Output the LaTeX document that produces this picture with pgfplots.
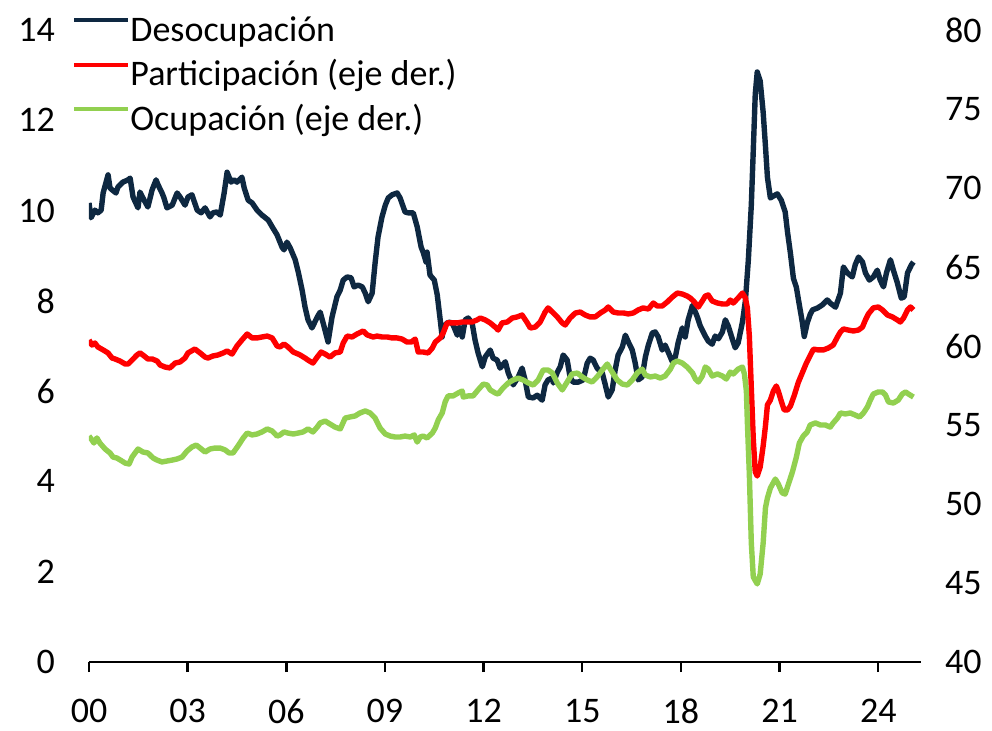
\documentclass[border=0pt]{standalone}
\usepackage{fontspec}
\setmainfont{Carlito}
\usepackage{pgfplots}
\pgfplotsset{compat=1.18}
\definecolor{navy}{HTML}{0E2841}
\definecolor{partred}{HTML}{FF0000}
\definecolor{ocugreen}{HTML}{92D050}
\begin{document}
\begin{tikzpicture}
\pgfplotsset{
  every axis/.append style={
    width=416pt, height=316pt, scale only axis,
    xmin=0, xmax=25.3,
    /pgf/number format/assume math mode=true,
    tick label style={font=\fontsize{18}{21.6}\selectfont},
  }
}
\begin{axis}[name=main,
  ymin=0, ymax=14, ytick={0,2,...,14},
  axis x line*=bottom, axis y line*=left,
  y axis line style={draw=none},
  x axis line style={draw=black, line width=1pt, -},
  ytick style={draw=none},
  xtick={0,3,...,24},
  xticklabels={00,03,06,09,12,15,18,21,24},
  tick align=outside,
  xtick style={black, line width=1.2pt},
  major tick length=5pt,
  yticklabel style={xshift=-8.5pt},
  xticklabel style={yshift=-10pt},
  legend style={at={(rel axis cs:0,1)}, anchor=north west, xshift=-8.5pt, yshift=8pt,
    draw=none, fill=none, inner sep=0pt, column sep=0pt, row sep=4.25pt,
    font=\fontsize{18}{21.6}\selectfont,
    nodes={inner sep=0pt, text height=13.5pt, text depth=4.5pt}},
  legend cell align=left,
  legend image code/.code={\draw[#1, line width=2pt] (0pt,6pt) -- (27pt,6pt);},
]
\addplot[navy, line width=2.7pt, line join=round] table {
0.00 10.17
0.06 9.84
0.18 10.01
0.27 9.95
0.37 10.01
0.43 10.39
0.58 10.79
0.64 10.50
0.70 10.46
0.82 10.39
0.88 10.52
1.03 10.63
1.19 10.68
1.25 10.72
1.34 10.30
1.49 10.06
1.55 10.41
1.64 10.28
1.79 10.08
1.92 10.46
2.04 10.68
2.10 10.57
2.22 10.39
2.28 10.28
2.37 10.06
2.53 10.12
2.68 10.39
2.77 10.30
2.92 10.12
3.01 10.30
3.13 10.35
3.29 10.01
3.41 9.95
3.53 10.06
3.68 9.86
3.77 9.95
3.89 9.97
3.99 9.90
4.11 10.39
4.20 10.85
4.32 10.63
4.41 10.68
4.50 10.63
4.65 10.74
4.72 10.50
4.84 10.23
4.96 10.17
5.11 10.01
5.26 9.90
5.45 9.79
5.57 9.64
5.72 9.46
5.87 9.19
5.93 9.13
6.02 9.30
6.12 9.17
6.27 8.91
6.36 8.65
6.48 8.24
6.57 7.86
6.66 7.58
6.78 7.40
6.94 7.64
7.03 7.75
7.12 7.51
7.27 7.09
7.39 7.64
7.54 8.09
7.64 8.24
7.73 8.46
7.85 8.53
7.97 8.51
8.06 8.31
8.18 8.35
8.31 8.31
8.40 8.17
8.49 7.98
8.61 8.17
8.70 8.84
8.79 9.42
8.91 9.86
9.01 10.12
9.10 10.28
9.22 10.35
9.37 10.39
9.46 10.28
9.61 9.97
9.70 9.95
9.86 9.95
9.98 9.64
10.10 9.19
10.16 9.08
10.25 8.86
10.28 9.08
10.37 8.57
10.50 8.46
10.59 8.13
10.68 7.58
10.74 7.20
10.77 7.42
10.89 7.51
10.98 7.53
11.07 7.47
11.20 7.24
11.26 7.42
11.35 7.20
11.44 7.58
11.53 7.62
11.65 7.51
11.74 7.13
11.83 6.85
11.96 6.54
12.05 6.76
12.20 6.91
12.29 6.73
12.41 6.69
12.50 6.51
12.66 6.65
12.75 6.40
12.90 6.14
13.05 6.31
13.17 6.51
13.26 6.25
13.36 5.87
13.51 5.85
13.63 5.91
13.78 5.80
13.87 6.14
13.96 6.25
14.09 6.29
14.12 6.18
14.24 6.42
14.33 6.54
14.42 6.80
14.54 6.69
14.63 6.31
14.72 6.20
14.88 6.20
15.03 6.25
15.15 6.62
15.24 6.73
15.33 6.69
15.45 6.51
15.61 6.40
15.70 6.14
15.79 5.87
15.91 6.03
16.00 6.47
16.09 6.80
16.22 6.98
16.31 7.24
16.40 7.09
16.52 6.91
16.61 6.62
16.70 6.25
16.82 6.31
16.92 6.76
17.01 7.02
17.13 7.29
17.22 7.31
17.31 7.20
17.43 6.91
17.52 7.02
17.61 6.87
17.74 6.65
17.83 6.76
17.92 7.09
18.04 7.40
18.13 7.20
18.22 7.58
18.35 7.90
18.44 7.75
18.50 7.64
18.59 7.44
18.74 7.22
18.83 7.11
18.95 7.04
19.04 7.22
19.14 7.16
19.26 7.31
19.35 7.58
19.44 7.44
19.56 7.16
19.65 6.96
19.74 7.07
19.87 7.53
19.96 8.00
20.05 8.91
20.14 10.12
20.20 11.34
20.26 12.58
20.32 13.07
20.41 12.87
20.50 12.18
20.57 11.43
20.63 10.74
20.72 10.28
20.81 10.32
20.93 10.37
21.05 10.23
21.17 9.97
21.24 9.53
21.33 9.05
21.42 8.50
21.51 8.30
21.57 8.04
21.69 7.53
21.75 7.21
21.84 7.51
21.93 7.70
22.00 7.80
22.15 7.84
22.30 7.91
22.45 8.02
22.54 7.95
22.70 7.86
22.85 8.17
22.94 8.75
23.06 8.62
23.21 8.53
23.30 8.80
23.40 8.97
23.52 8.86
23.61 8.62
23.73 8.46
23.85 8.53
23.97 8.68
24.06 8.46
24.16 8.31
24.25 8.62
24.37 8.91
24.46 8.68
24.58 8.40
24.70 8.06
24.79 8.09
24.89 8.62
25.01 8.80
25.07 8.86
};
\addlegendentry{Desocupación}
\addlegendimage{partred}
\addlegendentry{Participación (eje der.)}
\addlegendimage{ocugreen}
\addlegendentry{Ocupación (eje der.)}
\end{axis}
\begin{axis}[
  ymin=40, ymax=80, ytick={40,45,...,80},
  axis x line=none, axis y line*=right,
  y axis line style={draw=none},
  ytick style={draw=none},
  yticklabel style={xshift=8.5pt},
]
\addplot[partred, line width=2.7pt, line join=round] table {
0.00 60.38
0.09 60.06
0.18 60.19
0.27 59.94
0.43 59.75
0.58 59.56
0.70 59.24
0.79 59.18
0.94 59.05
1.10 58.86
1.19 58.86
1.31 59.11
1.46 59.43
1.55 59.56
1.64 59.43
1.79 59.18
1.92 59.18
2.07 59.05
2.16 58.80
2.31 58.67
2.46 58.61
2.62 58.92
2.77 58.99
2.92 59.24
3.01 59.56
3.22 59.81
3.38 59.56
3.53 59.30
3.62 59.24
3.77 59.37
3.92 59.43
4.08 59.56
4.20 59.68
4.35 59.49
4.50 60.00
4.65 60.38
4.81 60.76
4.96 60.51
5.11 60.51
5.26 60.57
5.42 60.63
5.57 60.51
5.72 60.00
5.81 59.94
5.93 60.13
6.05 59.94
6.21 59.62
6.36 59.49
6.42 59.43
6.57 59.24
6.66 59.11
6.81 58.92
6.94 59.30
7.06 59.62
7.18 59.49
7.33 59.30
7.48 59.56
7.64 59.62
7.73 60.19
7.85 60.63
8.00 60.57
8.15 60.76
8.34 60.95
8.46 60.70
8.64 60.57
8.76 60.63
8.91 60.57
9.07 60.57
9.22 60.51
9.37 60.51
9.52 60.44
9.67 60.25
9.80 60.25
9.92 60.44
10.01 59.62
10.16 59.62
10.31 59.56
10.44 59.87
10.53 60.25
10.68 60.51
10.77 60.82
10.89 61.46
11.04 61.46
11.20 61.46
11.35 61.52
11.50 61.52
11.65 61.52
11.80 61.65
11.90 61.77
12.05 61.65
12.20 61.46
12.35 61.20
12.44 61.01
12.56 61.46
12.72 61.52
12.87 61.77
13.02 61.84
13.17 61.96
13.33 61.46
13.42 61.14
13.57 61.20
13.72 61.52
13.87 62.15
13.96 62.41
14.09 62.15
14.24 61.84
14.39 61.46
14.48 61.33
14.63 61.77
14.79 62.09
14.94 62.15
15.09 61.96
15.24 61.84
15.39 61.84
15.55 62.09
15.70 62.28
15.79 62.47
15.94 62.15
16.09 62.09
16.25 62.09
16.40 62.03
16.55 62.09
16.70 62.28
16.85 62.41
17.01 62.34
17.16 62.72
17.28 62.53
17.43 62.53
17.58 62.78
17.74 63.10
17.89 63.35
18.04 63.29
18.19 63.16
18.28 63.04
18.38 62.85
18.53 62.47
18.65 62.85
18.74 63.16
18.83 63.23
18.95 62.85
19.11 62.72
19.26 62.66
19.41 62.66
19.50 62.91
19.59 62.72
19.74 63.04
19.87 63.35
19.96 63.04
20.02 62.41
20.08 60.63
20.14 57.34
20.20 54.11
20.26 52.03
20.32 51.77
20.41 52.34
20.50 53.67
20.57 54.94
20.63 56.27
20.72 56.58
20.81 57.15
20.90 57.47
20.96 57.15
21.05 56.52
21.14 55.95
21.24 55.95
21.33 56.20
21.45 56.90
21.57 57.70
21.69 58.30
21.81 58.90
21.93 59.40
22.03 59.80
22.18 59.75
22.33 59.75
22.48 59.87
22.63 60.06
22.76 60.57
22.85 60.89
22.94 61.08
23.09 61.01
23.24 60.95
23.40 61.01
23.52 61.20
23.61 61.65
23.70 62.03
23.85 62.41
24.00 62.47
24.13 62.28
24.28 61.96
24.43 61.84
24.58 61.65
24.67 61.52
24.77 61.77
24.89 62.28
24.98 62.47
25.07 62.28
};
\addplot[ocugreen, line width=2.7pt, line join=round] table {
0.00 54.30
0.09 54.05
0.15 53.86
0.24 54.18
0.33 53.86
0.49 53.48
0.64 53.23
0.73 52.97
0.85 52.91
1.00 52.72
1.10 52.59
1.22 52.53
1.31 52.97
1.40 53.23
1.49 53.48
1.64 53.29
1.79 53.23
1.95 52.91
2.07 52.78
2.22 52.66
2.37 52.72
2.53 52.78
2.68 52.85
2.83 52.97
2.98 53.35
3.13 53.61
3.26 53.73
3.38 53.54
3.53 53.29
3.68 53.48
3.83 53.54
3.99 53.54
4.14 53.42
4.26 53.23
4.38 53.23
4.53 53.67
4.69 54.18
4.81 54.49
4.96 54.37
5.11 54.43
5.26 54.56
5.42 54.75
5.57 54.62
5.72 54.30
5.81 54.37
5.93 54.56
6.05 54.49
6.21 54.43
6.36 54.49
6.51 54.56
6.66 54.75
6.81 54.56
6.94 54.87
7.03 55.13
7.18 55.25
7.33 55.06
7.48 54.87
7.64 54.75
7.79 55.44
7.94 55.51
8.09 55.57
8.24 55.76
8.40 55.89
8.55 55.76
8.70 55.44
8.85 54.81
9.01 54.43
9.16 54.30
9.31 54.24
9.46 54.24
9.61 54.30
9.77 54.24
9.89 54.37
9.98 53.92
10.07 54.24
10.16 54.30
10.28 54.18
10.44 54.49
10.53 54.81
10.62 55.32
10.74 55.76
10.83 56.46
10.92 56.84
11.07 56.84
11.23 57.03
11.35 57.15
11.38 56.77
11.53 56.84
11.68 56.84
11.83 57.22
11.99 57.59
12.11 57.53
12.20 57.22
12.35 57.03
12.44 56.96
12.59 57.34
12.75 57.66
12.90 57.85
13.05 57.97
13.20 57.85
13.36 57.66
13.51 57.53
13.66 57.85
13.81 58.48
13.96 58.48
14.09 58.29
14.24 57.66
14.39 57.22
14.54 57.72
14.69 58.23
14.85 58.29
15.00 58.04
15.15 57.85
15.30 57.72
15.45 58.04
15.61 58.48
15.76 58.86
15.91 58.35
16.06 57.85
16.22 57.59
16.37 57.53
16.52 57.85
16.67 58.29
16.82 58.54
16.92 58.16
17.07 58.04
17.22 58.10
17.37 57.97
17.52 58.10
17.68 58.54
17.77 58.92
17.89 59.05
18.04 58.92
18.19 58.67
18.35 58.30
18.44 57.91
18.53 57.72
18.65 58.10
18.74 58.67
18.83 58.54
18.95 58.10
19.11 58.23
19.26 58.10
19.38 57.91
19.50 58.35
19.59 58.23
19.74 58.54
19.87 58.67
19.93 58.23
19.99 57.15
20.02 55.19
20.08 51.90
20.14 47.53
20.20 45.38
20.32 44.94
20.41 45.57
20.50 47.53
20.57 49.75
20.63 50.38
20.72 51.01
20.87 51.58
20.96 51.27
21.08 50.70
21.17 50.63
21.27 51.27
21.39 52.03
21.51 52.97
21.60 53.86
21.72 54.30
21.84 54.56
21.93 55.00
22.09 55.13
22.24 55.00
22.39 55.00
22.54 54.87
22.63 55.13
22.76 55.44
22.85 55.76
23.00 55.70
23.15 55.76
23.30 55.63
23.43 55.51
23.55 55.76
23.67 56.14
23.76 56.58
23.85 56.96
24.00 57.09
24.13 57.09
24.22 56.90
24.31 56.46
24.46 56.39
24.61 56.58
24.73 56.96
24.83 57.09
24.92 56.96
25.07 56.77
};
\end{axis}
\path ([xshift=-44.5pt,yshift=-31pt]main.south west) rectangle ([xshift=35.5pt,yshift=15pt]main.north east);
\end{tikzpicture}
\end{document}
